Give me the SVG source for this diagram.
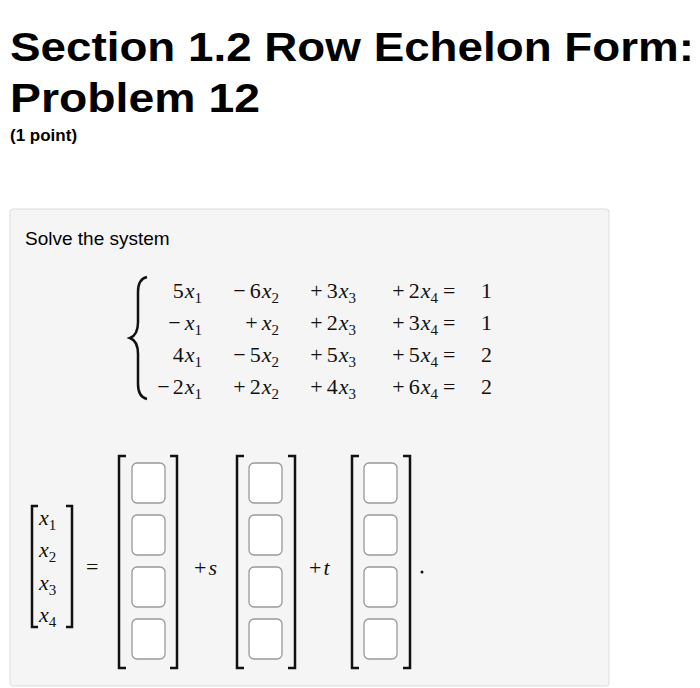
<svg xmlns="http://www.w3.org/2000/svg" width="700" height="688" viewBox="0 0 700 688">
<style>
.t{font-family:"Liberation Sans",Arial,sans-serif;fill:#000}
.m{font-family:"Liberation Serif","DejaVu Serif",serif;font-size:22px;fill:#111}
.i{font-style:italic}
.s{font-size:15px}
.br{fill:none;stroke:#111;stroke-width:2.5}
.bx{fill:#fff;stroke:#999;stroke-width:1.3}
</style>
<rect width="700" height="688" fill="#fff"/>
<text class="t" x="10" y="61" font-size="41" font-weight="bold" textLength="684" lengthAdjust="spacingAndGlyphs">Section 1.2 Row Echelon Form:</text>
<text class="t" x="10" y="112" font-size="41" font-weight="bold" textLength="250" lengthAdjust="spacingAndGlyphs">Problem 12</text>
<text class="t" x="10" y="141" font-size="17" font-weight="bold">(1 point)</text>
<rect x="10" y="209" width="599" height="477" rx="3" fill="#f5f5f5" stroke="#ddd"/>
<text class="t" x="25" y="245" font-size="19">Solve the system</text>
<g id="system">
<path d="M147,277 Q138,279 138,292 L138,322 Q138,335 130,338 Q138,341 138,354 L138,384 Q138,397 147,399" class="br" stroke-width="2"/>
<g class="m" text-anchor="end">
<text x="202" y="298">5<tspan class="i" dx="1">x</tspan><tspan class="s" dy="5">1</tspan></text>
<text x="279" y="298">−<tspan dx="4">6</tspan><tspan class="i" dx="1">x</tspan><tspan class="s" dy="5">2</tspan></text>
<text x="356" y="298">+<tspan dx="4">3</tspan><tspan class="i" dx="1">x</tspan><tspan class="s" dy="5">3</tspan></text>
<text x="438" y="298">+<tspan dx="4">2</tspan><tspan class="i" dx="1">x</tspan><tspan class="s" dy="5">4</tspan></text>
<text x="202" y="330">−<tspan class="i" dx="4">x</tspan><tspan class="s" dy="5">1</tspan></text>
<text x="279" y="330">+<tspan class="i" dx="4">x</tspan><tspan class="s" dy="5">2</tspan></text>
<text x="356" y="330">+<tspan dx="4">2</tspan><tspan class="i" dx="1">x</tspan><tspan class="s" dy="5">3</tspan></text>
<text x="438" y="330">+<tspan dx="4">3</tspan><tspan class="i" dx="1">x</tspan><tspan class="s" dy="5">4</tspan></text>
<text x="202" y="362">4<tspan class="i" dx="1">x</tspan><tspan class="s" dy="5">1</tspan></text>
<text x="279" y="362">−<tspan dx="4">5</tspan><tspan class="i" dx="1">x</tspan><tspan class="s" dy="5">2</tspan></text>
<text x="356" y="362">+<tspan dx="4">5</tspan><tspan class="i" dx="1">x</tspan><tspan class="s" dy="5">3</tspan></text>
<text x="438" y="362">+<tspan dx="4">5</tspan><tspan class="i" dx="1">x</tspan><tspan class="s" dy="5">4</tspan></text>
<text x="202" y="394">−<tspan dx="3">2</tspan><tspan class="i" dx="1">x</tspan><tspan class="s" dy="5">1</tspan></text>
<text x="279" y="394">+<tspan dx="4">2</tspan><tspan class="i" dx="1">x</tspan><tspan class="s" dy="5">2</tspan></text>
<text x="356" y="394">+<tspan dx="4">4</tspan><tspan class="i" dx="1">x</tspan><tspan class="s" dy="5">3</tspan></text>
<text x="438" y="394">+<tspan dx="4">6</tspan><tspan class="i" dx="1">x</tspan><tspan class="s" dy="5">4</tspan></text>
</g>
<g class="m">
<text x="443" y="298">=</text><text x="443" y="330">=</text><text x="443" y="362">=</text><text x="443" y="394">=</text>
<text x="481" y="298">1</text><text x="481" y="330">1</text><text x="481" y="362">2</text><text x="481" y="394">2</text>
</g>
</g>
<g id="vector-x">
<path class="br" stroke-width="1.8" d="M38,506 H32 V627 H38 M66,506 H72 V627 H66"/>
<g class="m" font-size="20">
<text x="39" y="525"><tspan class="i">x</tspan><tspan class="s" dy="5">1</tspan></text>
<text x="39" y="557"><tspan class="i">x</tspan><tspan class="s" dy="5">2</tspan></text>
<text x="39" y="590"><tspan class="i">x</tspan><tspan class="s" dy="5">3</tspan></text>
<text x="39" y="622"><tspan class="i">x</tspan><tspan class="s" dy="5">4</tspan></text>
</g>
<text class="m" x="86" y="574">=</text>
</g>
<g id="vec1">
<path class="br" d="M126,456 H119 V668 H126 M170,456 H177 V668 H170"/>
<rect class="bx" x="132" y="463" width="33" height="40" rx="5"/>
<rect class="bx" x="132" y="515" width="33" height="40" rx="5"/>
<rect class="bx" x="132" y="567" width="33" height="40" rx="5"/>
<rect class="bx" x="132" y="619" width="33" height="40" rx="5"/>
</g>
<text class="m" x="194" y="575">+<tspan class="i" dx="2">s</tspan></text>
<g id="vec2">
<path class="br" d="M244,456 H237 V668 H244 M288,456 H295 V668 H288"/>
<rect class="bx" x="249" y="463" width="33" height="40" rx="5"/>
<rect class="bx" x="249" y="515" width="33" height="40" rx="5"/>
<rect class="bx" x="249" y="567" width="33" height="40" rx="5"/>
<rect class="bx" x="249" y="619" width="33" height="40" rx="5"/>
</g>
<text class="m" x="309" y="575">+<tspan class="i" dx="2">t</tspan></text>
<g id="vec3">
<path class="br" d="M359,456 H352 V668 H359 M403,456 H410 V668 H403"/>
<rect class="bx" x="364" y="463" width="33" height="40" rx="5"/>
<rect class="bx" x="364" y="515" width="33" height="40" rx="5"/>
<rect class="bx" x="364" y="567" width="33" height="40" rx="5"/>
<rect class="bx" x="364" y="619" width="33" height="40" rx="5"/>
</g>
<circle cx="422" cy="572" r="1.5" fill="#111"/>
</svg>
